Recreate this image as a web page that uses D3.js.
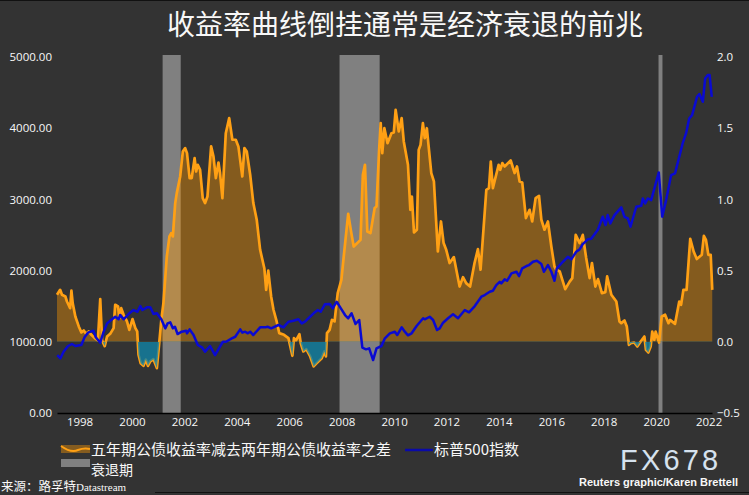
<!DOCTYPE html>
<html>
<head>
<meta charset="utf-8">
<script src="https://cdn.jsdelivr.net/npm/d3@7"></script>
<style>
  html, body { margin: 0; padding: 0; background: #333333; }
  svg { display: block; }
  text { fill: #f8f8f8; font-family: "Open Sans", "Noto Sans", sans-serif; }
  .cjk { font-family: "Noto Sans CJK SC", sans-serif; }
</style>
</head>
<body>
<svg id="chart" width="749" height="495"></svg>
<script>
const titleText = "收益率曲线倒挂通常是经济衰退的前兆";
const legendSpread = "五年期公债收益率减去两年期公债收益率之差";
const legendSpx = "标普500指数";
const legendRecession = "衰退期";
const sourceText = "来源：路孚特";
const sourceLatin = "Datastream";
const creditText = "Reuters graphic/Karen Brettell";
const logoText = "FX678";

const yearTicks = [1998, 2000, 2002, 2004, 2006, 2008, 2010, 2012, 2014, 2016, 2018, 2020, 2022];
const leftTicks = [0, 1000, 2000, 3000, 4000, 5000];
const rightTicks = [-0.5, 0, 0.5, 1, 1.5, 2];

const recessionStart = [2001.17, 2007.92, 2020.09];
const recessionEnd = [2001.86, 2009.45, 2020.24];

// 五年期减两年期利差 (right axis)
const spreadYears = [
  1997.14, 1997.26, 1997.33, 1997.46, 1997.52, 1997.64, 1997.69, 1997.74, 1997.84, 1997.97,
  1998.07, 1998.16, 1998.25, 1998.35, 1998.45, 1998.58, 1998.70, 1998.79, 1998.86, 1998.96,
  1999.05, 1999.17, 1999.30, 1999.36, 1999.47, 1999.52, 1999.59, 1999.68, 1999.81, 1999.90,
  2000.02, 2000.13, 2000.20, 2000.25, 2000.33, 2000.44, 2000.53, 2000.61, 2000.70, 2000.82,
  2000.95, 2001.04, 2001.12, 2001.20, 2001.33, 2001.43, 2001.50, 2001.56, 2001.65, 2001.71,
  2001.84, 2001.94, 2002.03, 2002.10, 2002.20, 2002.28, 2002.39, 2002.45, 2002.51, 2002.60,
  2002.70, 2002.79, 2002.88, 2003.02, 2003.11, 2003.20, 2003.30, 2003.36, 2003.45, 2003.58,
  2003.71, 2003.83, 2003.96, 2004.06, 2004.21, 2004.29, 2004.38, 2004.51, 2004.63, 2004.76,
  2004.89, 2005.05, 2005.12, 2005.20, 2005.31, 2005.40, 2005.52, 2005.62, 2005.80, 2005.97,
  2006.12, 2006.18, 2006.26, 2006.39, 2006.44, 2006.54, 2006.65, 2006.80, 2006.93, 2007.05,
  2007.24, 2007.34, 2007.40, 2007.44, 2007.54, 2007.63, 2007.73, 2007.85, 2007.99, 2008.08,
  2008.25, 2008.37, 2008.46, 2008.72, 2008.81, 2008.89, 2008.98, 2009.10, 2009.26, 2009.33,
  2009.43, 2009.49, 2009.55, 2009.63, 2009.75, 2009.90, 2009.99, 2010.06, 2010.18, 2010.29,
  2010.37, 2010.53, 2010.62, 2010.68, 2010.76, 2010.87, 2010.94, 2011.01, 2011.10, 2011.17,
  2011.25, 2011.42, 2011.52, 2011.67, 2011.79, 2011.89, 2011.99, 2012.12, 2012.28, 2012.50,
  2012.63, 2012.75, 2012.90, 2013.07, 2013.20, 2013.30, 2013.52, 2013.62, 2013.69, 2013.77,
  2013.99, 2014.05, 2014.13, 2014.22, 2014.45, 2014.60, 2014.69, 2014.79, 2014.89, 2015.03,
  2015.17, 2015.27, 2015.40, 2015.53, 2015.62, 2015.74, 2015.87, 2016.00, 2016.12, 2016.19,
  2016.32, 2016.40, 2016.53, 2016.70, 2016.80, 2016.93, 2017.08, 2017.20, 2017.33, 2017.46,
  2017.55, 2017.68, 2017.78, 2017.93, 2018.06, 2018.13, 2018.29, 2018.48, 2018.60, 2018.67,
  2018.79, 2018.88, 2018.96, 2019.03, 2019.16, 2019.28, 2019.41, 2019.55, 2019.61, 2019.70,
  2019.79, 2019.85, 2019.93, 2019.98, 2020.11, 2020.21, 2020.34, 2020.47, 2020.53, 2020.72,
  2020.88, 2020.95, 2021.04, 2021.16, 2021.30, 2021.43, 2021.55, 2021.74, 2021.82, 2021.90,
  2021.99, 2022.08, 2022.14
];
const spreadValues = [
  0.33, 0.365, 0.33, 0.318, 0.283, 0.236, 0.36, 0.27, 0.178, 0.108,
  0.066, 0.08, 0.056, 0.073, 0.049, 0.026, 0.01, 0.30, 0.01, -0.03,
  0.037, 0.056, 0.096, 0.26, 0.248, 0.166, 0.236, 0.19, 0.143, 0.084,
  0.16, 0.096, 0.073, -0.091, -0.15, -0.169, -0.126, -0.169, -0.138, -0.122,
  -0.185, -0.01, 0.154, 0.272, 0.599, 0.74, 0.763, 0.74, 0.974, 1.044,
  1.161, 1.336, 1.36, 1.325, 1.15, 1.15, 1.29, 1.196, 1.243, 1.208,
  1.009, 0.974, 1.02, 1.372, 1.301, 1.15, 1.259, 1.185, 1.009, 1.465,
  1.571, 1.419, 1.419, 1.372, 1.161, 1.36, 1.336, 1.173, 0.974, 0.857,
  0.646, 0.517, 0.365, 0.50, 0.318, 0.225, 0.143, 0.061, 0.049, 0.026,
  -0.098, 0.026, 0.01, 0.054, -0.01, -0.068, -0.052, -0.103, -0.173, -0.15,
  -0.115, -0.068, -0.103, 0.061, 0.084, 0.154, 0.143, 0.342, 0.435, 0.599,
  0.899, 0.763, 0.669, 0.716, 1.173, 1.243, 0.775, 0.763, 0.939, 0.95,
  1.348, 1.536, 1.325, 1.50, 1.395, 1.465, 1.47, 1.629, 1.477, 1.571,
  1.407, 1.243, 0.927, 1.02, 0.768, 0.787, 1.348, 1.383, 1.536, 1.43,
  1.50, 1.185, 1.126, 0.634, 0.845, 0.693, 0.646, 0.553, 0.595, 0.388,
  0.454, 0.412, 0.388, 0.553, 0.651, 0.506, 1.067, 1.079, 1.266, 1.079,
  1.243, 1.208, 1.255, 1.231, 1.273, 1.185, 1.231, 1.126, 1.119, 0.869,
  0.927, 0.845, 1.009, 1.025, 0.857, 0.787, 0.845, 0.669, 0.529, 0.506,
  0.494, 0.447, 0.37, 0.423, 0.447, 0.751, 0.693, 0.751, 0.588, 0.447,
  0.553, 0.388, 0.44, 0.342, 0.349, 0.459, 0.33, 0.283, 0.143, 0.131,
  0.15, 0.107, -0.021, -0.01, -0.005, -0.033, 0.002, 0.037, -0.056, -0.075,
  -0.033, 0.072, 0.014, 0.072, -0.005, 0.178, 0.19, 0.131, 0.154, 0.126,
  0.283, 0.26, 0.365, 0.365, 0.723, 0.634, 0.581, 0.611, 0.744, 0.716,
  0.611, 0.611, 0.365
];

// 标普500指数 (left axis)
const spxYears = [
  1997.15, 1997.27, 1997.39, 1997.56, 1997.71, 1997.84, 1998.07, 1998.19, 1998.32, 1998.53,
  1998.62, 1998.79, 1998.92, 1999.05, 1999.24, 1999.36, 1999.49, 1999.55, 1999.68, 1999.90,
  2000.06, 2000.21, 2000.32, 2000.40, 2000.57, 2000.70, 2000.82, 2000.95, 2001.12, 2001.27,
  2001.36, 2001.46, 2001.56, 2001.64, 2001.74, 2001.90, 2002.07, 2002.10, 2002.20, 2002.35,
  2002.51, 2002.67, 2002.79, 2002.98, 2003.17, 2003.34, 2003.47, 2003.59, 2003.81, 2003.94,
  2004.13, 2004.21, 2004.32, 2004.42, 2004.51, 2004.63, 2004.89, 2005.08, 2005.17, 2005.31,
  2005.59, 2005.78, 2005.97, 2006.16, 2006.35, 2006.48, 2006.60, 2006.93, 2007.09, 2007.20,
  2007.36, 2007.55, 2007.66, 2007.81, 2007.97, 2008.13, 2008.25, 2008.38, 2008.53, 2008.67,
  2008.79, 2008.93, 2009.05, 2009.20, 2009.33, 2009.52, 2009.65, 2009.84, 2010.03, 2010.12,
  2010.29, 2010.41, 2010.53, 2010.67, 2010.86, 2011.11, 2011.17, 2011.36, 2011.49, 2011.64,
  2011.74, 2011.87, 2012.06, 2012.25, 2012.44, 2012.70, 2012.86, 2013.08, 2013.33, 2013.46,
  2013.65, 2013.77, 2013.90, 2014.03, 2014.09, 2014.22, 2014.31, 2014.48, 2014.67, 2014.77,
  2014.89, 2015.05, 2015.15, 2015.30, 2015.45, 2015.62, 2015.72, 2015.87, 2016.00, 2016.12,
  2016.21, 2016.44, 2016.63, 2016.76, 2016.95, 2017.08, 2017.20, 2017.39, 2017.52, 2017.77,
  2017.96, 2018.07, 2018.15, 2018.25, 2018.41, 2018.67, 2018.79, 2018.92, 2019.02, 2019.24,
  2019.43, 2019.49, 2019.58, 2019.68, 2019.81, 2020.10, 2020.23, 2020.38, 2020.57, 2020.72,
  2021.01, 2021.14, 2021.26, 2021.37, 2021.56, 2021.65, 2021.78, 2021.87, 2021.97, 2022.04,
  2022.12
];
const spxValues = [
  814, 768, 861, 941, 969, 941, 955, 1063, 1128, 1156,
  1063, 987, 1142, 1259, 1316, 1352, 1316, 1376, 1316, 1400,
  1446, 1422, 1502, 1446, 1484, 1484, 1390, 1400, 1316, 1189,
  1259, 1273, 1189, 1212, 1109, 1142, 1156, 1119, 1175, 1095,
  955, 922, 861, 941, 814, 922, 1001, 1001, 1049, 1071,
  1175, 1128, 1142, 1119, 1142, 1095, 1203, 1203, 1212, 1189,
  1236, 1203, 1282, 1296, 1316, 1259, 1282, 1400, 1446, 1422,
  1526, 1530, 1470, 1563, 1470, 1376, 1330, 1400, 1250, 1306,
  917, 894, 908, 744, 908, 941, 1049, 1119, 1142, 1095,
  1203, 1142, 1091, 1119, 1221, 1330, 1316, 1352, 1306, 1165,
  1189, 1268, 1330, 1386, 1330, 1446, 1414, 1502, 1633, 1657,
  1703, 1717, 1797, 1843, 1820, 1877, 1857, 1961, 1984, 1923,
  2032, 2064, 2078, 2124, 2138, 2092, 1984, 2078, 1984, 1857,
  2032, 2124, 2194, 2158, 2265, 2298, 2373, 2439, 2447, 2569,
  2756, 2640, 2780, 2663, 2780, 2888, 2756, 2734, 2616, 2897,
  2911, 3013, 2944, 3013, 2990, 3379, 2756, 2990, 3341, 3365,
  3786, 3927, 4137, 4184, 4441, 4479, 4371, 4699, 4746, 4746,
  4441
];

const spread = spreadYears.map((d, i) => ({ year: d, value: spreadValues[i] }));
const spx = spxYears.map((d, i) => ({ year: d, value: spxValues[i] }));
const recessions = recessionStart.map((d, i) => ({ start: d, end: recessionEnd[i] }));

const svg = d3.select("#chart");
const plotLeft = 57, plotRight = 712, plotTop = 57, plotBottom = 413;

const x = d3.scaleLinear().domain([1997.14, 2022.13]).range([plotLeft, plotRight]);
const yLeft = d3.scaleLinear().domain([0, 5000]).range([plotBottom, plotTop]);
const yRight = d3.scaleLinear().domain([-0.5, 2]).range([plotBottom, plotTop]);

// 衰退期
svg.append("g").selectAll("rect")
  .data(recessions)
  .enter()
  .append("rect")
  .attr("x", d => x(d.start))
  .attr("y", plotTop - 2)
  .attr("width", d => x(d.end) - x(d.start))
  .attr("height", plotBottom - plotTop + 2)
  .attr("fill", "#808080");

// clip the spread area at zero so the two colours split there
const defs = svg.append("defs");
defs.append("clipPath").attr("id", "above")
  .append("rect")
  .attr("x", plotLeft).attr("y", plotTop)
  .attr("width", plotRight - plotLeft + 2).attr("height", yRight(0) - plotTop);
defs.append("clipPath").attr("id", "below")
  .append("rect")
  .attr("x", plotLeft).attr("y", yRight(0))
  .attr("width", plotRight - plotLeft + 2).attr("height", plotBottom - yRight(0));

const spreadArea = d3.area()
  .x(d => x(d.year))
  .y0(yRight(0))
  .y1(d => yRight(d.value));
const spreadLine = d3.line().x(d => x(d.year)).y(d => yRight(d.value));
const spxLine = d3.line().x(d => x(d.year)).y(d => yLeft(d.value));

svg.append("path")
  .datum(spread)
  .attr("d", spreadArea)
  .attr("clip-path", "url(#above)")
  .attr("fill", "#ff9800")
  .attr("fill-opacity", 0.4);

svg.append("path")
  .datum(spread)
  .attr("d", spreadLine)
  .attr("fill", "none")
  .attr("stroke", "#ffa014")
  .attr("stroke-width", 2.7)
  .attr("stroke-linejoin", "round");

// the teal part lies over the line, that is why the line looks dull under zero
svg.append("path")
  .datum(spread)
  .attr("d", spreadArea)
  .attr("clip-path", "url(#below)")
  .attr("fill", "#0f84a8")
  .attr("fill-opacity", 0.78);

svg.append("path")
  .datum(spx)
  .attr("d", spxLine)
  .attr("fill", "none")
  .attr("stroke", "#0a0ad2")
  .attr("stroke-width", 2.5)
  .attr("stroke-linejoin", "round");

// axes
const xAxis = d3.axisBottom(x).tickValues(yearTicks).tickSize(0).tickPadding(5).tickFormat(d3.format("d"));
const gx = svg.append("g")
  .attr("transform", `translate(0, ${plotBottom})`)
  .call(xAxis);
gx.select(".domain").attr("stroke", "#000").attr("stroke-width", 1.5);

const gl = svg.append("g")
  .attr("transform", `translate(${plotLeft - 5}, 0)`)
  .call(d3.axisLeft(yLeft).tickValues(leftTicks).tickSize(0).tickPadding(0).tickFormat(d3.format(".2f")));
gl.select(".domain").remove();

const gr = svg.append("g")
  .attr("transform", `translate(${plotRight + 5}, 0)`)
  .call(d3.axisRight(yRight).tickValues(rightTicks).tickSize(0).tickPadding(0).tickFormat(d3.format(".1f")));
gr.select(".domain").remove();

svg.selectAll(".tick text")
  .style("font-family", '"Open Sans", sans-serif')
  .style("font-size", "11.5px")
  .style("fill", "#f8f8f8");

// 标题
svg.append("text")
  .attr("class", "cjk")
  .attr("x", 167).attr("y", 35)
  .style("font-size", "28px")
  .style("font-weight", 400)
  .text(titleText);

// 图例
svg.append("rect").attr("x", 61).attr("y", 445).attr("width", 29).attr("height", 8).attr("fill", "#855c1f");
svg.append("path")
  .attr("d", "M61,446 C68,451 74,452 78,450 C83,448 86,448 90,449")
  .attr("fill", "none").attr("stroke", "#ffa014").attr("stroke-width", 2);
svg.append("rect").attr("x", 61).attr("y", 459).attr("width", 29).attr("height", 8).attr("fill", "#808080");
svg.append("line")
  .attr("x1", 405).attr("x2", 433).attr("y1", 450).attr("y2", 450)
  .attr("stroke", "#0a0aa8").attr("stroke-width", 2.5);

svg.append("text").attr("class", "cjk")
  .attr("x", 91).attr("y", 454.5)
  .style("font-size", "15px")
  .text(legendSpread);
svg.append("text").attr("class", "cjk")
  .attr("x", 434).attr("y", 454.5)
  .style("font-size", "15px")
  .text(legendSpx);
svg.append("text").attr("class", "cjk")
  .attr("x", 91).attr("y", 475)
  .style("font-size", "14px")
  .text(legendRecession);

// 来源 and credit
const source = svg.append("text").attr("class", "cjk")
  .attr("x", 1).attr("y", 491)
  .style("font-size", "12.5px")
  .text(sourceText);
source.append("tspan")
  .style("font-family", '"Liberation Serif", serif')
  .style("font-size", "11px")
  .text(sourceLatin);

svg.append("text")
  .attr("x", 738).attr("y", 486)
  .attr("text-anchor", "end")
  .style("font-family", '"Liberation Sans", sans-serif')
  .style("font-size", "11px")
  .style("font-weight", 700)
  .text(creditText);

svg.append("text")
  .attr("x", 620).attr("y", 470)
  .style("font-family", '"Liberation Sans", sans-serif')
  .style("font-size", "29px")
  .style("letter-spacing", "3.2px")
  .style("fill", "#d6e2ee")
  .text(logoText);

// thin dark edges of the original picture
svg.append("line").attr("x1", 0).attr("x2", 749).attr("y1", 0.5).attr("y2", 0.5).attr("stroke", "#111");
svg.append("line").attr("x1", 155).attr("x2", 749).attr("y1", 492.5).attr("y2", 492.5).attr("stroke", "#111");
</script>
</body>
</html>
